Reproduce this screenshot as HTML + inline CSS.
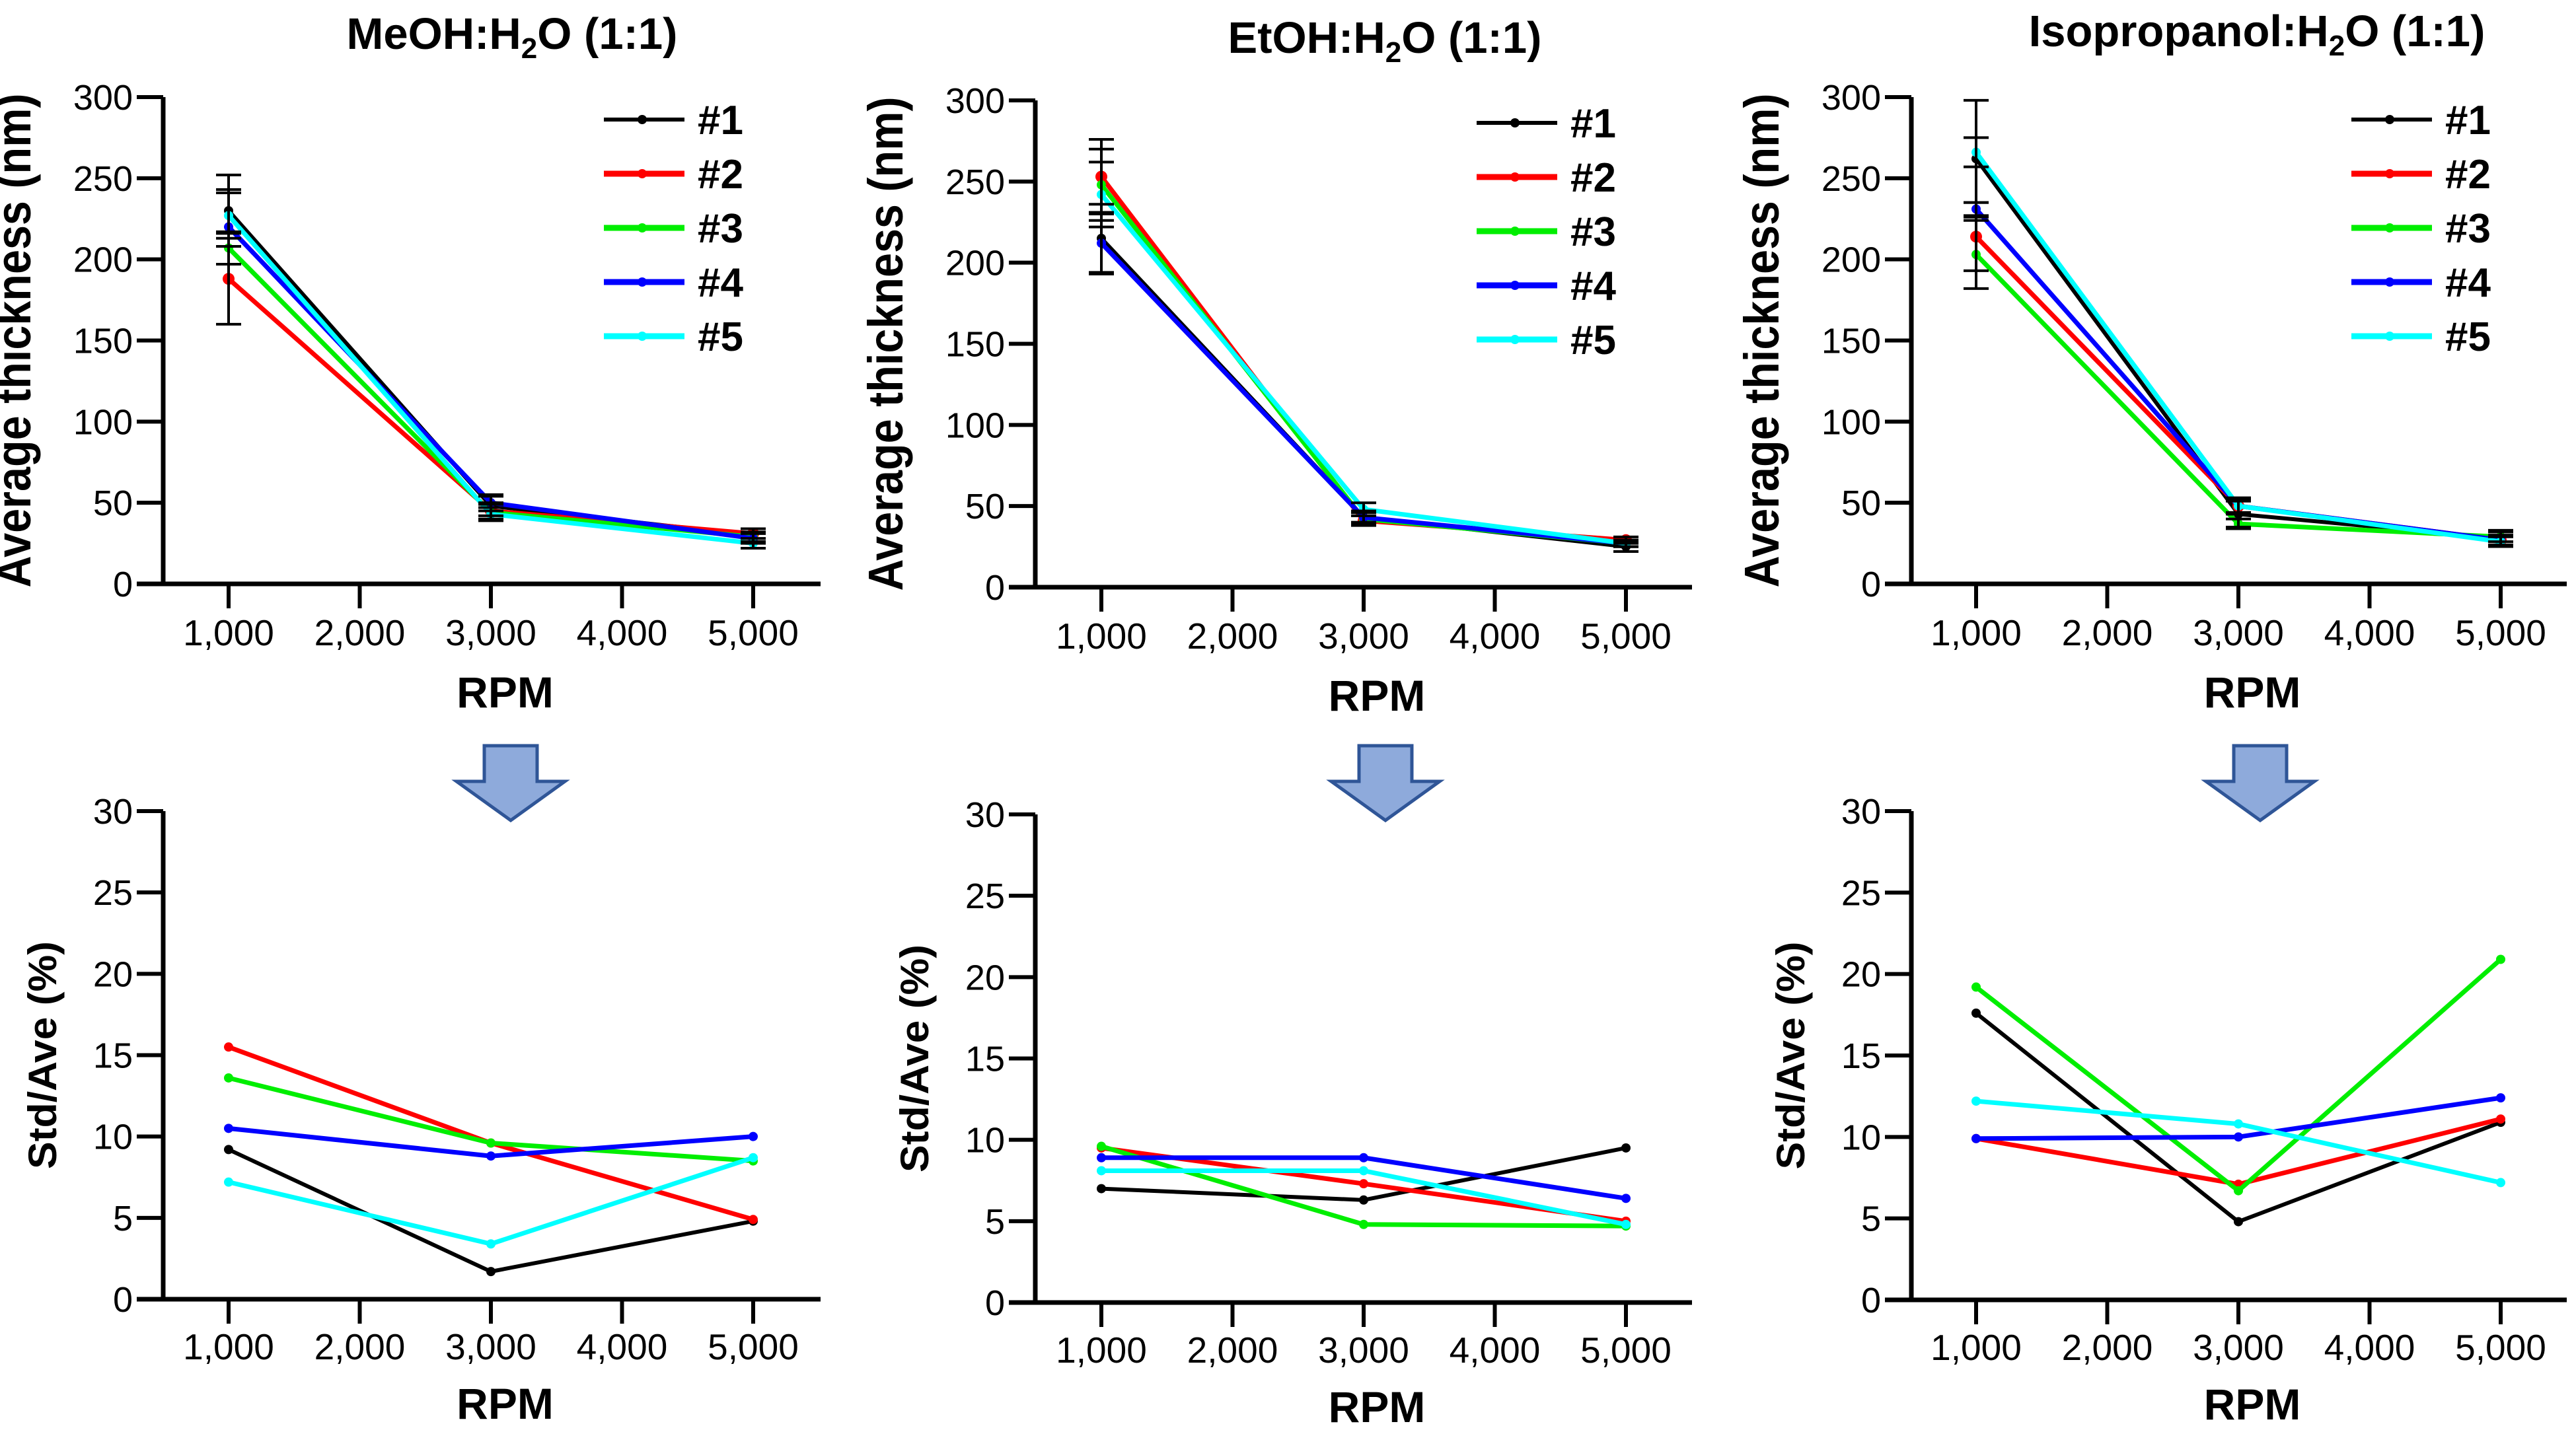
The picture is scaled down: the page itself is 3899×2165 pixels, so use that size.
<!DOCTYPE html>
<html><head><meta charset="utf-8"><style>
html,body{margin:0;padding:0;background:#fff}
svg{display:block}
text{font-family:"Liberation Sans",Arial,sans-serif}
</style></head><body>
<svg id="fig" width="3899" height="2165" viewBox="0 0 3899 2165" xmlns="http://www.w3.org/2000/svg"></svg>
<script>
const rpmCategories = [1000, 3000, 5000];
const xTickLabels = ["1,000","2,000","3,000","4,000","5,000"];
const xTickValues = [1000,2000,3000,4000,5000];
const topYTicks = [0,50,100,150,200,250,300];
const botYTicks = [0,5,10,15,20,25,30];
const seriesNames = ["#1","#2","#3","#4","#5"];
const seriesColors = ["#000000","#ff0000","#00ee00","#0000ff","#00ffff"];

// Thickness (nm)
const meohThk1 = [230, 48, 30];
const meohThk2 = [188, 45, 31];
const meohThk3 = [207, 44, 29];
const meohThk4 = [220, 50, 28];
const meohThk5 = [227, 43, 25];
const meohErr1 = [22, 6, 4];
const meohErr2 = [28, 5, 3];
const meohErr3 = [10, 5, 3];
const meohErr4 = [23, 5, 3];
const meohErr5 = [14, 4, 3];

const etohThk1 = [215, 43, 25];
const etohThk2 = [253, 41, 29];
const etohThk3 = [248, 42, 27];
const etohThk4 = [212, 43, 27];
const etohThk5 = [242, 48, 27];
const etohErr1 = [21, 4, 3];
const etohErr2 = [23, 3, 2];
const etohErr3 = [22, 2, 2];
const etohErr4 = [19, 3, 2];
const etohErr5 = [20, 4, 2];

const ipaThk1 = [262, 43, 28];
const ipaThk2 = [214, 48, 27];
const ipaThk3 = [203, 37, 29];
const ipaThk4 = [231, 48, 27];
const ipaThk5 = [266, 48, 26];
const ipaErr1 = [36, 8, 5];
const ipaErr2 = [21, 4, 3];
const ipaErr3 = [21, 3, 3];
const ipaErr4 = [4, 5, 3];
const ipaErr5 = [9, 5, 3];

// Std/Ave (%)
const meohCv1 = [9.2, 1.7, 4.8];
const meohCv2 = [15.5, 9.6, 4.9];
const meohCv3 = [13.6, 9.6, 8.5];
const meohCv4 = [10.5, 8.8, 10.0];
const meohCv5 = [7.2, 3.4, 8.7];

const etohCv1 = [7.0, 6.3, 9.5];
const etohCv2 = [9.5, 7.3, 5.0];
const etohCv3 = [9.6, 4.8, 4.7];
const etohCv4 = [8.9, 8.9, 6.4];
const etohCv5 = [8.1, 8.1, 4.8];

const ipaCv1 = [17.6, 4.8, 10.9];
const ipaCv2 = [9.9, 7.1, 11.1];
const ipaCv3 = [19.2, 6.7, 20.9];
const ipaCv4 = [9.9, 10.0, 12.4];
const ipaCv5 = [12.2, 10.8, 7.2];

const NS = "http://www.w3.org/2000/svg";
const svg = document.getElementById("fig");
function mk(tag, attrs, parent){
  const e = document.createElementNS(NS, tag);
  for (const k in attrs) e.setAttribute(k, attrs[k]);
  (parent||svg).appendChild(e);
  return e;
}

function drawPanel(cfg){
  const g = mk("g", {});
  
  
  const xs = v => cfg.x1000 + (v-1000)*(cfg.x5000-cfg.x1000)/4000;
  const ys = v => cfg.y0 - (v-cfg.ymin)*(cfg.y0-cfg.ytop)/(cfg.ymax-cfg.ymin);
  const ya = mk("line", {x1:cfg.ax, y1:ys(cfg.ymax), x2:cfg.ax, y2:cfg.y0+3, stroke:"#000","stroke-width":7}, g);
  
  
  const xa = mk("line", {x1:cfg.ax-40, y1:cfg.y0, x2:cfg.xend, y2:cfg.y0, stroke:"#000","stroke-width":7}, g);
  
  
  cfg.yticks.forEach(t=>{
    mk("line",{x1:cfg.ax-40,y1:ys(t),x2:cfg.ax,y2:ys(t),stroke:"#000","stroke-width":6},g);
    const tl = mk("text",{x:cfg.ax-46,y:ys(t)+19,"text-anchor":"end","font-size":54},g);
    tl.textContent = t;
    
    
  });
  xTickValues.forEach((t,i)=>{
    mk("line",{x1:xs(t),y1:cfg.y0,x2:xs(t),y2:cfg.y0+37,stroke:"#000","stroke-width":6},g);
    const tl = mk("text",{x:xs(t),y:cfg.xlabY,"text-anchor":"middle","font-size":55},g);
    tl.textContent = xTickLabels[i];
    
    
  });
  const xt = mk("text",{x:(cfg.ax+cfg.xend)/2+20,y:cfg.rpmY,"text-anchor":"middle","font-size":66,"font-weight":"bold"},g);
  xt.textContent = "RPM";
  
  
  const cy = (cfg.y0+ys(cfg.ymax))/2 + cfg.ytOff;
  const yt = mk("text",{x:0,y:0,"text-anchor":"middle","font-size":cfg.ytSize,"font-weight":"bold",
    textLength:cfg.ytLen,lengthAdjust:"spacingAndGlyphs",
    transform:`translate(${cfg.ax-cfg.ytDx},${cy}) rotate(-90)`},g);
  yt.textContent = cfg.ytitle;
  
  
  cfg.series.forEach((vals,si)=>{
    const col = seriesColors[si];
    const pts = vals.map((v,i)=>xs(rpmCategories[i])+","+ys(v)).join(" ");
    const pl = mk("polyline",{points:pts,fill:"none",stroke:col,"stroke-width":si===0?6:7,"stroke-linejoin":"round"},g);
    
    
    vals.forEach((v,i)=>{
      const m = mk("circle",{cx:xs(rpmCategories[i]),cy:ys(v),r:si===1&&cfg.errs?9:7,fill:col},g);
      
      
    });
  });
  if (cfg.errs){
    cfg.errs.forEach((errs,si)=>{
      errs.forEach((e,i)=>{
        const v = cfg.series[si][i], x = xs(rpmCategories[i]);
        const eb = mk("path",{d:`M${x},${ys(v+e)}V${ys(v-e)}M${x-19},${ys(v+e)}h38M${x-19},${ys(v-e)}h38`,stroke:"#000","stroke-width":4,fill:"none"},g);
        
        
      });
    });
  }
  if (cfg.legend){
    seriesNames.forEach((n,si)=>{
      const ly = ys(cfg.ymax) + 34 + si*82;
      const lx = cfg.x5000 - 226;
      const lg = mk("g",{},g);
      
      
      mk("line",{x1:lx,y1:ly,x2:lx+122,y2:ly,stroke:seriesColors[si],"stroke-width":si===0?6:9},lg);
      mk("circle",{cx:lx+58,cy:ly,r:7,fill:seriesColors[si]},lg);
      const lt = mk("text",{x:lx+142,y:ly+22,"font-size":62,"font-weight":"bold"},lg);
      lt.textContent = n;
    });
  }
  if (cfg.title){
    const tt = mk("text",{x:cfg.titleX,y:cfg.titleY,"text-anchor":"middle","font-size":67,"font-weight":"bold"},g);
    
    
    const a = mk("tspan",{},tt); a.textContent = cfg.title + ":H";
    const b = mk("tspan",{"font-size":44,dy:14},tt); b.textContent = "2";
    const c = mk("tspan",{dy:-14},tt); c.textContent = "O (1:1)";
  }
  if (cfg.arrow){
    const ax = cfg.arrow;
    const ar = mk("path",{d:`M${ax-40},1129 H${ax+40} V1183 H${ax+82} L${ax},1242 L${ax-82},1183 H${ax-40} Z`,fill:"#8eaadb",stroke:"#2f5597","stroke-width":5,"stroke-linejoin":"miter"},g);
    
    
  }
}

const topCommon = {ymin:0,ymax:300,yticks:topYTicks,legend:true,ytitle:"Average thickness (nm)",ytSize:74,ytLen:748,ytDx:201,ytOff:0};
const botCommon = {ymin:0,ymax:30,yticks:botYTicks,legend:false,ytitle:"Std/Ave (%)",ytSize:60,ytLen:345,ytDx:162,ytOff:0};

drawPanel(Object.assign({},topCommon,{name:"meoh-thickness-chart",ax:247,x1000:346,x5000:1140,xend:1242,ytop:147,y0:884,xlabY:977,rpmY:1071,
  series:[meohThk1,meohThk2,meohThk3,meohThk4,meohThk5],errs:[meohErr1,meohErr2,meohErr3,meohErr4,meohErr5],title:"MeOH",titleX:775,titleY:74}));
drawPanel(Object.assign({},topCommon,{name:"etoh-thickness-chart",ax:1567,x1000:1667,x5000:2461,xend:2561,ytop:152,y0:889,xlabY:982,rpmY:1076,
  series:[etohThk1,etohThk2,etohThk3,etohThk4,etohThk5],errs:[etohErr1,etohErr2,etohErr3,etohErr4,etohErr5],title:"EtOH",titleX:2096,titleY:80}));
drawPanel(Object.assign({},topCommon,{name:"ipa-thickness-chart",ax:2893,x1000:2991,x5000:3785,xend:3885,ytop:147,y0:884,xlabY:977,rpmY:1071,
  series:[ipaThk1,ipaThk2,ipaThk3,ipaThk4,ipaThk5],errs:[ipaErr1,ipaErr2,ipaErr3,ipaErr4,ipaErr5],title:"Isopropanol",titleX:3416,titleY:70}));

drawPanel(Object.assign({},botCommon,{name:"meoh-cv-chart",ax:247,x1000:346,x5000:1140,xend:1242,ytop:1228,y0:1967,xlabY:2058,rpmY:2148,
  series:[meohCv1,meohCv2,meohCv3,meohCv4,meohCv5],arrow:773}));
drawPanel(Object.assign({},botCommon,{name:"etoh-cv-chart",ax:1567,x1000:1667,x5000:2461,xend:2561,ytop:1233,y0:1972,xlabY:2063,rpmY:2153,
  series:[etohCv1,etohCv2,etohCv3,etohCv4,etohCv5],arrow:2097}));
drawPanel(Object.assign({},botCommon,{name:"ipa-cv-chart",ax:2893,x1000:2991,x5000:3785,xend:3885,ytop:1228,y0:1968,xlabY:2059,rpmY:2149,
  series:[ipaCv1,ipaCv2,ipaCv3,ipaCv4,ipaCv5],arrow:3421}));
</script>
</body></html>
